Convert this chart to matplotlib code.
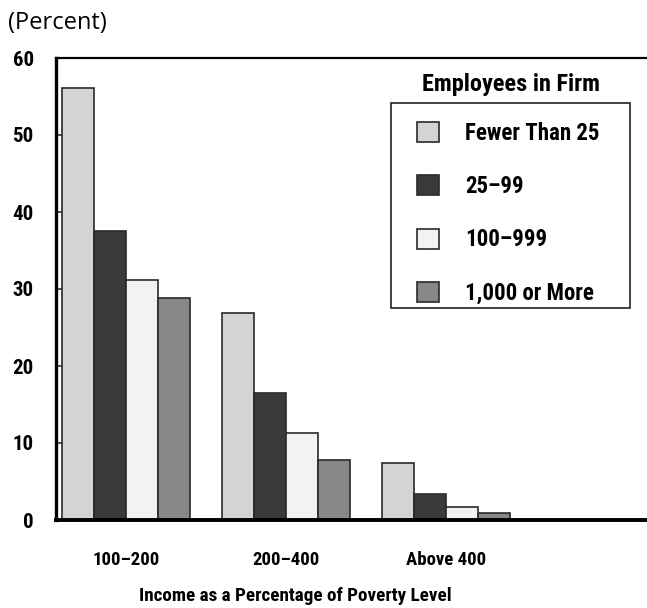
import matplotlib
matplotlib.use("Agg")
import matplotlib.pyplot as plt
from matplotlib import font_manager as fm
from matplotlib.patches import Rectangle
import numpy as np

# Pick a narrow sans family if one is installed
_names = {f.name for f in fm.fontManager.ttflist}
_narrow = [n for n in ['Liberation Sans Narrow', 'Roboto Condensed',
                       'DejaVu Sans Condensed', 'Open Sans Condensed',
                       'Noto Sans Condensed'] if n in _names]
if _narrow:
    family = [_narrow[0], 'DejaVu Sans']
    k = 1.0
else:
    family = ['Liberation Sans', 'DejaVu Sans']
    k = 0.88
plt.rcParams['font.family'] = family

# Data
groups = ["100\u2013200", "200\u2013400", "Above 400"]
series = ["Fewer Than 25", "25\u201399", "100\u2013999", "1,000 or More"]
fewer_than_25 = [56.1, 26.9, 7.4]
emp_25_99 = [37.5, 16.5, 3.4]
emp_100_999 = [31.2, 11.3, 1.7]
emp_1000_plus = [28.8, 7.8, 0.9]
values = [fewer_than_25, emp_25_99, emp_100_999, emp_1000_plus]
yticks = [0, 10, 20, 30, 40, 50, 60]

colors = ["#d4d4d4", "#3a3a3a", "#f2f2f2", "#888888"]
edge = "#2a2a2a"

W, H = 647, 608
fig = plt.figure(figsize=(W / 100, H / 100), dpi=100)
ax = fig.add_axes([56 / W, 1 - 520 / H, 1 - 56 / W, (520 - 58) / H])

x = np.arange(len(groups))
bw = 0.2
for i, (vals, c, name) in enumerate(zip(values, colors, series)):
    ax.bar(x + (i - 1.5) * bw, vals, width=bw, color=c, edgecolor=edge,
           linewidth=1.2, label=name, zorder=2)

# Legend frame (drawn in figure space, under the legend entries)
frame = Rectangle((391 / W, 1 - 308 / H), (630 - 391) / W, (308 - 103) / H,
                  transform=fig.transFigure, facecolor='white',
                  edgecolor='#222222', linewidth=1.2, zorder=4, clip_on=False)
ax.add_artist(frame)

ax.set_xlim(-0.4375, 3.256)
ax.set_ylim(0, 60)
ax.set_yticks(yticks)
ax.set_yticklabels([str(t) for t in yticks], fontsize=15 * k, fontweight='bold')
ax.tick_params(axis='y', direction='in', length=11, width=1.2, pad=16, color='#333333')
ax.set_xticks(x)
ax.set_xticklabels(groups, fontsize=13.5 * k, fontweight='bold')
ax.tick_params(axis='x', length=0, pad=22)

ax.spines['right'].set_visible(False)
ax.spines['left'].set_linewidth(2.4)
ax.spines['top'].set_linewidth(1.6)
ax.spines['bottom'].set_linewidth(2.8)
ax.spines['bottom'].set_zorder(3)

fig.text(8 / W, 1 - 23 / H, "(Percent)", fontsize=17,
         family=['Open Sans', 'DejaVu Sans'], ha='left', va='center')
fig.text(295 / W, 1 - 596 / H, "Income as a Percentage of Poverty Level",
         fontsize=13.8 * k, fontweight='bold', ha='center', va='center')

fig.text(511 / W, 1 - 84 / H, "Employees in Firm", fontsize=17.5 * k,
         fontweight='bold', ha='center', va='center')
leg = ax.legend(loc='upper left', bbox_to_anchor=(417 / W, 1 - 122 / H),
                bbox_transform=fig.transFigure, borderaxespad=0,
                prop={'size': 16.5 * k, 'weight': 'bold'}, frameon=False,
                handlelength=0.96, handleheight=0.96, labelspacing=1.32,
                handletextpad=1.15, borderpad=0)
leg.set_zorder(6)

fig.savefig("out.png", dpi=100)
